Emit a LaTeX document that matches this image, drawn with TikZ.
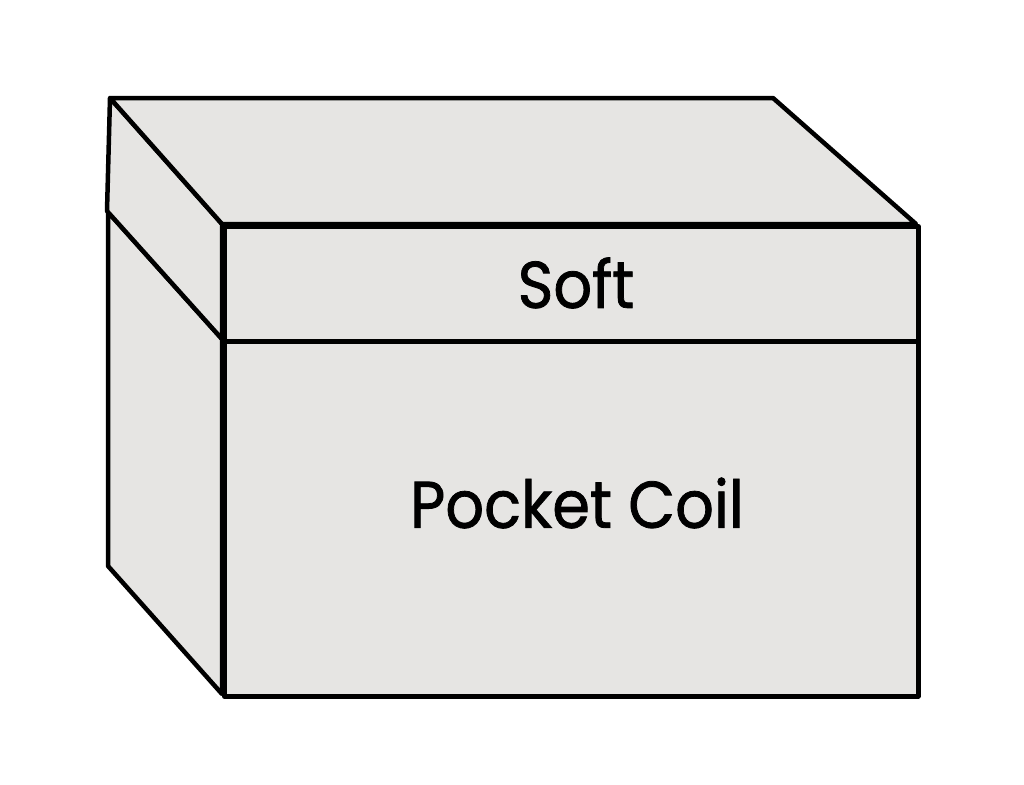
\documentclass[tikz,border=0pt]{standalone}
\usepackage{fontspec}
\setmainfont{Poppins}
\newfontfamily\lblfont[FakeBold=1.2]{Poppins}
\definecolor{boxfill}{HTML}{E6E5E3}
\begin{document}
\begin{tikzpicture}[x=1pt,y=-1pt,
  face/.style={fill=boxfill,draw=black,line width=4.5pt,line join=round},
  lbl/.style={font=\lblfont\fontsize{66}{70}\selectfont,text=black,inner sep=0pt,xscale=0.92}]
\useasboundingbox (0,0) rectangle (1024,784);
% left lower side
\draw[face] (108,212) -- (108,566) -- (222,694) -- (222,339) -- cycle;
% left lid side
\draw[face] (110,98) -- (107,211) -- (222,339) -- (222,224) -- cycle;
% top
\draw[face] (110,98) -- (773,98) -- (916,224) -- (222,224) -- cycle;
% front lid
\node[face,minimum width=694pt,minimum height=115pt,anchor=north west,inner sep=0pt] (soft) at (222,224) {};
% front body
\node[face,minimum width=694pt,minimum height=355pt,anchor=north west,inner sep=0pt] (coil) at (222,339) {};
\node[lbl] (softlbl) at (576,283) {Soft};
\node[lbl] (coillbl) at (577,503) {Pocket Coil};
\end{tikzpicture}
\end{document}
